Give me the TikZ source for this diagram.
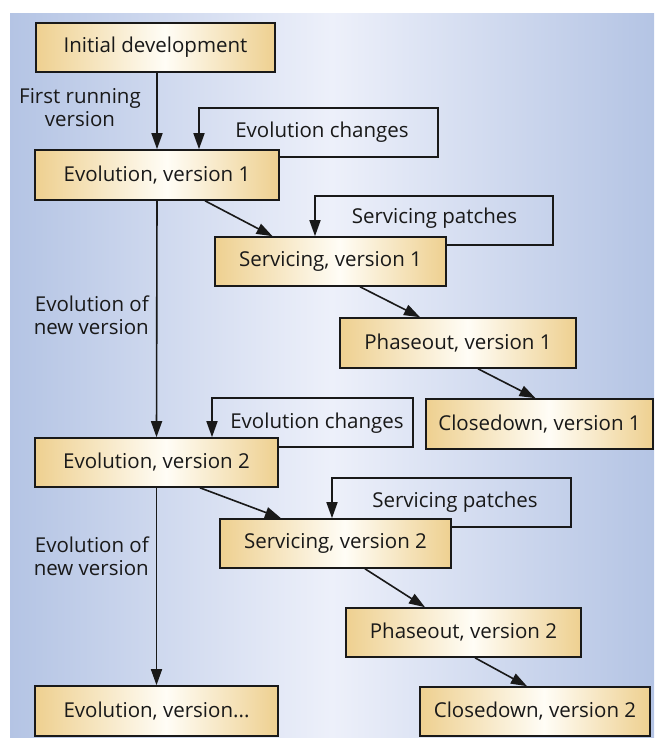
\documentclass[tikz,border=0pt]{standalone}
\usepackage{fontspec}
\setmainfont{Open Sans}
\usetikzlibrary{arrows.meta,calc}
\definecolor{bgedge}{RGB}{180,196,228}
\definecolor{bgmid}{RGB}{237,240,250}
\definecolor{boxtan}{RGB}{238,208,144}
\definecolor{boxlight}{RGB}{255,253,246}
\definecolor{ink}{RGB}{25,25,25}
\pgfdeclarehorizontalshading{boxshade}{100bp}{color(0bp)=(boxtan); color(25bp)=(boxtan); color(52bp)=(boxlight); color(75bp)=(boxtan); color(100bp)=(boxtan)}
\begin{document}
\begin{tikzpicture}[x=1pt,y=-1pt,
  bx/.style={draw=ink, line width=1.6pt, shading=boxshade, rectangle, inner sep=0pt,
     font=\fontsize{20.5}{23}\selectfont, text=ink},
  lbl/.style={font=\fontsize{20.5}{23}\selectfont, text=ink, inner sep=0pt},
  ln/.style={draw=ink, line width=1.6pt},
  arr/.style={ln, -{Triangle[length=16pt,width=11pt]}}]
\useasboundingbox (0,0) rectangle (654,738);
\shade[left color=bgedge, right color=bgedge, middle color=bgmid] (10,14) rectangle (654,738);

% boxes
\node[bx, minimum width=239pt, minimum height=49pt] (init) at (155.5,47.5) {Initial development};
\node[bx, minimum width=244pt, minimum height=50pt] (ev1) at (157,175) {Evolution, version 1};
\node[bx, minimum width=231pt, minimum height=49pt] (sv1) at (330.5,261.5) {Servicing, version 1};
\node[bx, minimum width=236pt, minimum height=50pt] (ph1) at (458,343) {Phaseout, version 1};
\node[bx, minimum width=227pt, minimum height=50pt] (cl1) at (539.5,424) {Closedown, version 1};
\node[bx, minimum width=243pt, minimum height=49pt] (ev2) at (156.5,462.5) {Evolution, version 2};
\node[bx, minimum width=231pt, minimum height=49pt] (sv2) at (335.5,543.5) {Servicing, version 2};
\node[bx, minimum width=235pt, minimum height=49pt] (ph2) at (463.5,632.5) {Phaseout, version 2};
\node[bx, minimum width=230pt, minimum height=49pt] (cl2) at (535,711.5) {Closedown, version 2};
\node[bx, minimum width=243pt, minimum height=50pt] (evn) at (156.5,711) {Evolution, version...};

% free labels
\node[lbl, align=center] (frv) at (80,108) {First running\\version};
\node[lbl, align=right, anchor=east] (enl1) at (149,315) {Evolution of\\new version};
\node[lbl, align=right, anchor=east] (enl2) at (149,556) {Evolution of\\new version};
\node[lbl] (ec1) at (322,132) {Evolution changes};
\node[lbl] (sp1) at (434.5,218) {Servicing patches};
\node[lbl] (ec2) at (317,423) {Evolution changes};
\node[lbl] (sp2) at (455,502) {Servicing patches};

% loop corners
\coordinate (l1) at (438,108);
\coordinate (l2) at (553,196);
\coordinate (l3) at (413,398);
\coordinate (l4) at (571,478);

% vertical arrows
\draw[arr] (init.south -| ev1.north) -- (ev1.north);
\draw[arr] (ev1.south) -- (ev2.north);
\draw[arr] (ev2.south) -- (evn.north);

% diagonal arrows
\draw[arr] ($(ev1.south)+(48,0)$) -- ($(sv1.north)+(-58,0)$);
\draw[arr] ($(sv1.south)+(29.5,0)$) -- ($(ph1.north)+(-38,0)$);
\draw[arr] ($(ph1.south)+(20,0)$) -- ($(cl1.north)+(-4,0)$);
\draw[arr] ($(ev2.south)+(43.5,0)$) -- ($(sv2.north)+(-54.5,0)$);
\draw[arr] ($(sv2.south)+(29.5,0)$) -- ($(ph2.north)+(-38.5,0)$);
\draw[arr] ($(ph2.south)+(11.5,0)$) -- ($(cl2.north)+(-8,0)$);

% feedback loops
\draw[arr] ($(ev1.north east)+(0,8)$) -| (l1) -| ($(ev1.north)+(42,0)$);
\draw[arr] ($(sv1.north east)+(0,9)$) -| (l2) -| ($(sv1.north)+(-15.5,0)$);
\draw[arr] ($(ev2.north east)+(0,10)$) -| (l3) -| ($(ev2.north)+(55.5,0)$);
\draw[arr] ($(sv2.north east)+(0,9)$) -| (l4) -| ($(sv2.north)+(-3.5,0)$);
\end{tikzpicture}
\end{document}
